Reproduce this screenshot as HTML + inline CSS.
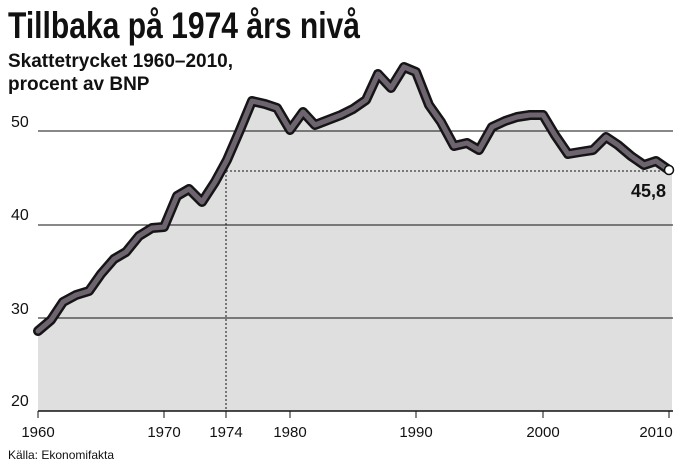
<!DOCTYPE html>
<html><head><meta charset="utf-8"><style>
body{margin:0;background:#fff;width:685px;height:466px;overflow:hidden;font-family:"Liberation Sans",sans-serif}
</style></head><body>
<svg width="685" height="466" xmlns="http://www.w3.org/2000/svg">
<text x="8" y="38" font-family="Liberation Sans Narrow, Liberation Sans, sans-serif" font-weight="bold" font-size="37" fill="#111" textLength="352" lengthAdjust="spacingAndGlyphs">Tillbaka på 1974 års nivå</text>
<text x="8" y="67" font-weight="bold" font-size="19" fill="#111">Skattetrycket 1960–2010,</text>
<text x="8" y="90" font-weight="bold" font-size="19" fill="#111">procent av BNP</text>
<polygon fill="#e0dfe0" points="38,411 38,331 51,320 63,302 76,295 89,291 101,274 114,259 126,252 139,236 152,228 164,227 177,196 189,189 202,202 215,182 227,160 240,130 252,101 265,104 277,108 290,130 303,112 315,125 328,120 341,115 353,109 366,100 378,74 391,88 404,67 416,72 429,105 441,122 454,146 467,143 479,150 492,127 505,121 517,117 530,115 543,115 555,135 568,154 580,152 593,150 606,137 618,145 631,156 644,165 656,161 669,170 672,170 672,411"/>
<g stroke="#111" stroke-width="1">
<line x1="38" y1="131" x2="673" y2="131"/>
<line x1="38" y1="225" x2="673" y2="225"/>
<line x1="38" y1="318" x2="673" y2="318"/>
<line x1="38" y1="411" x2="673" y2="411" stroke-width="1.5"/>
<line x1="38" y1="411" x2="38" y2="418"/><line x1="164" y1="411" x2="164" y2="418"/><line x1="226" y1="411" x2="226" y2="418"/><line x1="290" y1="411" x2="290" y2="418"/><line x1="416" y1="411" x2="416" y2="418"/><line x1="543" y1="411" x2="543" y2="418"/><line x1="669" y1="411" x2="669" y2="418"/>
</g>
<g stroke="#111" stroke-width="1" stroke-dasharray="2,2" fill="none">
<line x1="226" y1="171" x2="669" y2="171"/>
<line x1="226" y1="171" x2="226" y2="411"/>
</g>
<g fill="none" stroke-linejoin="round" stroke-linecap="round">
<polyline id="l" stroke="#151515" stroke-width="10" points="38,331 51,320 63,302 76,295 89,291 101,274 114,259 126,252 139,236 152,228 164,227 177,196 189,189 202,202 215,182 227,160 240,130 252,101 265,104 277,108 290,130 303,112 315,125 328,120 341,115 353,109 366,100 378,74 391,88 404,67 416,72 429,105 441,122 454,146 467,143 479,150 492,127 505,121 517,117 530,115 543,115 555,135 568,154 580,152 593,150 606,137 618,145 631,156 644,165 656,161 669,170"/>
<polyline stroke="#6e6470" stroke-width="5" points="38,331 51,320 63,302 76,295 89,291 101,274 114,259 126,252 139,236 152,228 164,227 177,196 189,189 202,202 215,182 227,160 240,130 252,101 265,104 277,108 290,130 303,112 315,125 328,120 341,115 353,109 366,100 378,74 391,88 404,67 416,72 429,105 441,122 454,146 467,143 479,150 492,127 505,121 517,117 530,115 543,115 555,135 568,154 580,152 593,150 606,137 618,145 631,156 644,165 656,161 669,170"/>
</g>
<circle cx="669" cy="170" r="4.5" fill="#fff" stroke="#111" stroke-width="1.5"/>
<text x="666" y="197" font-weight="bold" font-size="18" fill="#111" text-anchor="end">45,8</text>
<g font-size="16" fill="#111" font-family="Liberation Sans Narrow, Liberation Sans, sans-serif">
<text x="11" y="127">50</text><text x="11" y="220">40</text><text x="11" y="314">30</text><text x="11" y="406">20</text>
</g>
<g font-size="15" fill="#111" text-anchor="middle" font-family="Liberation Sans Narrow, Liberation Sans, sans-serif">
<text x="38" y="437">1960</text><text x="164" y="437">1970</text><text x="226" y="437">1974</text><text x="290" y="437">1980</text><text x="416" y="437">1990</text><text x="543" y="437">2000</text><text x="656" y="437">2010</text>
</g>
<text x="8" y="459" font-size="12" fill="#111">Källa: Ekonomifakta</text>
</svg>
</body></html>
